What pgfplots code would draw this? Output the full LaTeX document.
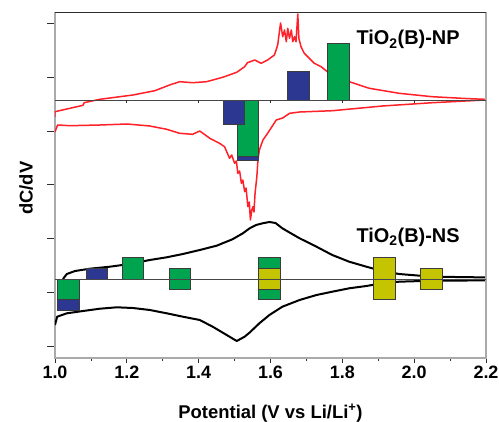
\documentclass[border=0pt]{standalone}
\usepackage{fontspec}
\setmainfont{Liberation Sans}
\usepackage{pgfplots}
\pgfplotsset{compat=1.18}

\definecolor{npred}{RGB}{255,32,40}
\definecolor{barblue}{RGB}{43,55,145}
\definecolor{bargreen}{RGB}{0,163,78}
\definecolor{baryellow}{RGB}{196,196,0}
\definecolor{barline}{RGB}{60,60,60}
\definecolor{axgray}{RGB}{170,170,170}

\pgfplotsset{blk/.style={fill=#1, draw=barline, line width=0.6bp}}

\begin{document}
\begin{tikzpicture}
\begin{axis}[name=ax,
    scale only axis, width=431bp, height=345.3bp,
    xmin=1, xmax=2.2, ymin=0, ymax=345.3,
    axis line style={draw=axgray, line width=1.5bp},
    xtick={1,1.2,1.4,1.6,1.8,2,2.2}, minor x tick num=1,
    ytick={12,65.7,119.4,173.1,226.8,280.5,334.2}, yticklabels={},
    tick align=outside, xtick pos=bottom, ytick pos=left,
    tick style={draw=gray!35!black, line width=0.8bp},
    xtick style={/pgfplots/major tick length=5bp, /pgfplots/minor tick length=3bp},
    ytick style={/pgfplots/major tick length=7.5bp},
    /pgf/number format/assume math mode=true,
    xticklabel={\pgfmathprintnumber[fixed,fixed zerofill,precision=1]{\tick}},
    xticklabel style={font=\fontsize{18}{20}\selectfont\bfseries},
    xlabel={Potential (V vs Li/Li\textsuperscript{+})},
    xlabel style={font=\fontsize{18.5}{20}\selectfont\bfseries, at={(axis description cs:0.5,-0.174)}, anchor=base},
    ylabel={dC/dV},
    ylabel style={font=\fontsize{18.5}{20}\selectfont\bfseries, at={(axis description cs:-0.067,0.492)}, anchor=center},
]
% TiO2(B)-NP, upper branch
\addplot[npred, line width=1.5bp, line join=round] coordinates {
(1.000,241) (1.000,246.3) (1.078,252.7) (1.081,255.3) (1.125,258.7) (1.217,263)
(1.278,267.3) (1.319,273) (1.347,276.3) (1.383,275.3) (1.422,276.3) (1.467,280.7)
(1.506,285.7) (1.528,291.3) (1.536,295.3) (1.556,298) (1.574,294.7) (1.592,298)
(1.611,303) (1.620,313) (1.628,335) (1.634,321.3) (1.639,328) (1.644,316.3)
(1.648,329.7) (1.653,319.7) (1.658,328) (1.662,316.3) (1.667,321.3) (1.671,316.3)
(1.676,344) (1.679,319.7) (1.685,311.3) (1.694,304.7) (1.708,299.7) (1.722,294.7)
(1.741,291.3) (1.758,286.3) (1.819,276.3) (1.875,269.7) (1.958,264.7) (2.050,261.3)
(2.153,259.3) (2.197,258.7)};
% TiO2(B)-NP, lower branch
\addplot[npred, line width=1.5bp, line join=round] coordinates {
(1.000,226) (1.006,232) (1.008,233) (1.042,232.3) (1.125,233) (1.200,234)
(1.264,232) (1.311,228.7) (1.347,224.7) (1.383,223.7) (1.403,227) (1.431,219.7)
(1.458,214.7) (1.472,211.3) (1.486,199.7) (1.492,203) (1.500,194.7) (1.505,197)
(1.509,184.7) (1.514,187) (1.519,174.7) (1.523,178) (1.528,166.3) (1.532,170)
(1.537,151.3) (1.541,156) (1.544,138) (1.548,148) (1.551,151.3) (1.554,146)
(1.557,164.7) (1.562,181.3) (1.565,198) (1.569,208) (1.579,218) (1.592,224.7)
(1.616,238) (1.634,240) (1.653,244.7) (1.681,246) (1.773,247.3) (1.912,252)
(2.051,255.3) (2.197,258)};
% TiO2(B)-NS, upper branch
\addplot[black, line width=2bp, line join=round] coordinates {
(1.022,79) (1.033,84) (1.056,87) (1.097,89.3) (1.153,91.3) (1.208,94) (1.264,98)
(1.311,100.7) (1.356,104) (1.403,108) (1.450,112.3) (1.494,118.7) (1.523,124.7)
(1.542,129.7) (1.560,133) (1.578,134.7) (1.597,136) (1.614,135) (1.633,129.7)
(1.653,125.5) (1.681,119.7) (1.728,111.3) (1.772,103) (1.819,96.3) (1.867,91.3)
(1.911,87) (1.958,84) (2.050,81.3) (2.197,80.6)};
% TiO2(B)-NS, lower branch
\addplot[black, line width=2bp, line join=round] coordinates {
(1.000,33) (1.006,41.3) (1.033,44.7) (1.078,47) (1.125,49.3) (1.172,50.7)
(1.217,50) (1.264,48) (1.311,44.7) (1.356,41.3) (1.403,38) (1.439,31.3)
(1.478,23) (1.506,17) (1.528,21.3) (1.542,25.5) (1.569,34.7) (1.597,43)
(1.633,51.3) (1.681,58) (1.728,63) (1.772,66.3) (1.819,69.7) (1.867,72)
(1.911,74.7) (1.958,76.3) (2.050,77.3) (2.197,77.6)};

% bars, NP
\addplot[blk=barblue] coordinates {(1.648,258) (1.708,258) (1.708,286.3) (1.648,286.3)} --cycle;
\addplot[blk=bargreen] coordinates {(1.759,258) (1.818,258) (1.818,314.7) (1.759,314.7)} --cycle;
\addplot[blk=bargreen] coordinates {(1.507,258) (1.567,258) (1.567,201.3) (1.507,201.3)} --cycle;
\addplot[blk=barblue] coordinates {(1.507,201.3) (1.567,201.3) (1.567,198) (1.507,198)} --cycle;
\addplot[blk=barblue] coordinates {(1.468,258) (1.526,258) (1.526,233.7) (1.468,233.7)} --cycle;
% bars, NS
\addplot[blk=bargreen] coordinates {(1.006,79) (1.067,79) (1.067,58.7) (1.006,58.7)} --cycle;
\addplot[blk=barblue] coordinates {(1.006,58.7) (1.067,58.7) (1.067,48) (1.006,48)} --cycle;
\addplot[blk=barblue] coordinates {(1.086,79) (1.146,79) (1.146,89.7) (1.086,89.7)} --cycle;
\addplot[blk=bargreen] coordinates {(1.187,79) (1.246,79) (1.246,100.7) (1.187,100.7)} --cycle;
\addplot[blk=bargreen] coordinates {(1.318,68.7) (1.377,68.7) (1.377,90) (1.318,90)} --cycle;
\addplot[blk=bargreen] coordinates {(1.567,58.7) (1.628,58.7) (1.628,69) (1.567,69)} --cycle;
\addplot[blk=baryellow] coordinates {(1.567,69) (1.628,69) (1.628,90) (1.567,90)} --cycle;
\addplot[blk=bargreen] coordinates {(1.567,90) (1.628,90) (1.628,100.7) (1.567,100.7)} --cycle;
\addplot[blk=baryellow] coordinates {(1.887,58.7) (1.947,58.7) (1.947,100.7) (1.887,100.7)} --cycle;
\addplot[blk=baryellow] coordinates {(2.018,68.7) (2.078,68.7) (2.078,90) (2.018,90)} --cycle;

% zero lines
\addplot[gray!55!black, line width=0.9bp] coordinates {(1,258) (2.2,258)};
\addplot[gray!55!black, line width=0.9bp] coordinates {(1,79) (2.2,79)};
\draw[gray!35!black, line width=0.7bp]
  (axis cs:1.2,258) -- (axis cs:1.2,254.5) (axis cs:1.4,258) -- (axis cs:1.4,254.5)
  (axis cs:1.6,258) -- (axis cs:1.6,254.5) (axis cs:1.8,258) -- (axis cs:1.8,254.5)
  (axis cs:2.0,258) -- (axis cs:2.0,254.5);
\draw[gray!35!black, line width=0.8bp] (rel axis cs:0,1) -- (rel axis cs:1,1);

\node[font=\fontsize{20}{22}\selectfont\bfseries, anchor=base] at (axis cs:1.983,313) {TiO\textsubscript{2}(B)-NP};
\node[font=\fontsize{20}{22}\selectfont\bfseries, anchor=base] at (axis cs:1.983,115.3) {TiO\textsubscript{2}(B)-NS};
\end{axis}
\pgfresetboundingbox
\path[use as bounding box] ([shift={(-55bp,-64bp)}]ax.south west) rectangle ([shift={(13bp,12.7bp)}]ax.north east);
\end{tikzpicture}
\end{document}
